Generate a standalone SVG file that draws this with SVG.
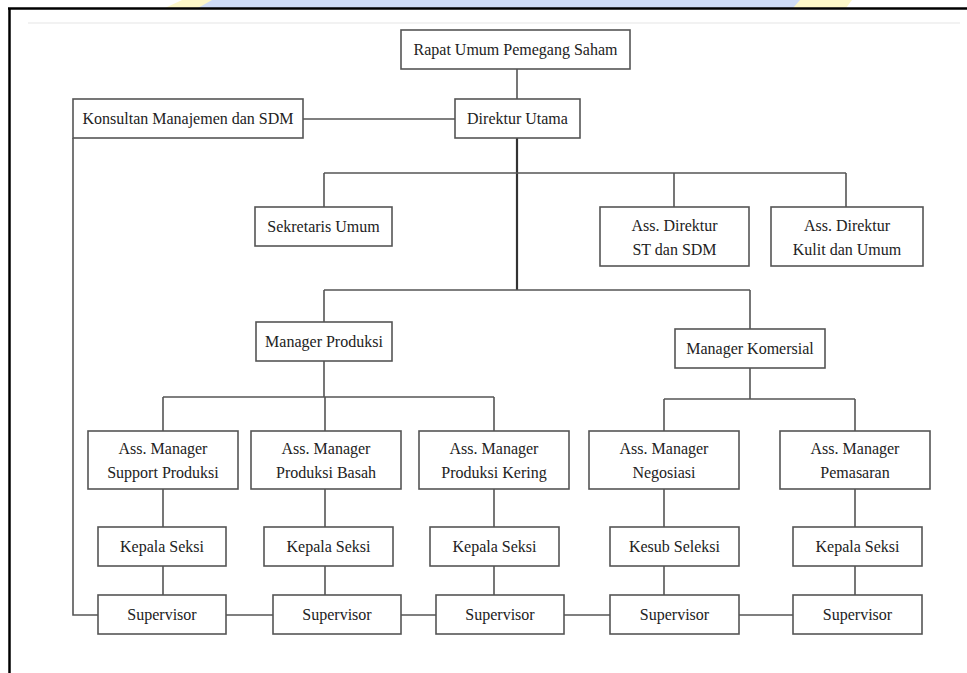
<svg xmlns="http://www.w3.org/2000/svg" width="967" height="673" viewBox="0 0 967 673">
<style>
.box{fill:#fff;stroke:#555;stroke-width:1.6}
.t{font-family:"Liberation Serif","Times New Roman",serif;font-size:16px;fill:#222;text-anchor:middle}
.c{fill:none;stroke:#555;stroke-width:1.6}
.cm{fill:none;stroke:#333;stroke-width:2.2}
</style>
<rect x="0" y="0" width="967" height="673" fill="#fff"/>
<g id="watermark">
<polygon points="165,8 182,0 852,0 846,8" fill="#fdf7c8"/>
<polygon points="198,8 212,0 800,0 793,8" fill="#cfdcf6"/>
</g>
<g id="frame">
<line x1="28" y1="23" x2="960" y2="23" stroke="#eee" stroke-width="1.5"/>
<line x1="8" y1="8.5" x2="967" y2="8.5" stroke="#000" stroke-width="2.5"/>
<line x1="9.5" y1="8" x2="9.5" y2="673" stroke="#000" stroke-width="2.5"/>
</g>
<g id="connectors">
<path class="c" d="M517 69V99M303 119H455M73 138V615H98"/>
<path class="cm" d="M517 138V290"/>
<path class="c" d="M324 173H846M324 173V207M674 173V207M846 173V207"/>
<path class="c" d="M324 290H750M324 290V322M750 290V329"/>
<path class="c" d="M324 361V397M163 397H494M163 397V431M325 397V431M494 397V431"/>
<path class="c" d="M750 368V399M664 399H855M664 399V431M855 399V431"/>
<path class="c" d="M163 489V527M325 489V527M494 489V527M664 489V527M855 489V527"/>
<path class="c" d="M163 566V595M325 566V595M494 566V595M664 566V595M855 566V595"/>
<path class="c" d="M226 615H273M401 615H436M564 615H610M739 615H793"/>
</g>
<g id="rapat"><rect class="box" x="401" y="30" width="229" height="39"/><text class="t" x="515.5" y="55">Rapat Umum Pemegang Saham</text></g>
<g id="konsultan"><rect class="box" x="73" y="99" width="230" height="39"/><text class="t" x="188" y="124">Konsultan Manajemen dan SDM</text></g>
<g id="direktur"><rect class="box" x="455" y="99" width="125" height="39"/><text class="t" x="517.5" y="124">Direktur Utama</text></g>
<g id="sekretaris"><rect class="box" x="255" y="207" width="137" height="39"/><text class="t" x="323.5" y="232">Sekretaris Umum</text></g>
<g id="assdir-st"><rect class="box" x="600" y="207" width="149" height="59"/><text class="t" x="674.5" y="231">Ass. Direktur</text><text class="t" x="674.5" y="255">ST dan SDM</text></g>
<g id="assdir-kulit"><rect class="box" x="771" y="207" width="152" height="59"/><text class="t" x="847" y="231">Ass. Direktur</text><text class="t" x="847" y="255">Kulit dan Umum</text></g>
<g id="mgr-produksi"><rect class="box" x="256" y="322" width="136" height="39"/><text class="t" x="324" y="347">Manager Produksi</text></g>
<g id="mgr-komersial"><rect class="box" x="675" y="329" width="150" height="39"/><text class="t" x="750" y="354">Manager Komersial</text></g>
<g id="am-support"><rect class="box" x="88" y="431" width="150" height="58"/><text class="t" x="163" y="454">Ass. Manager</text><text class="t" x="163" y="478">Support Produksi</text></g>
<g id="am-basah"><rect class="box" x="251" y="431" width="150" height="58"/><text class="t" x="326" y="454">Ass. Manager</text><text class="t" x="326" y="478">Produksi Basah</text></g>
<g id="am-kering"><rect class="box" x="419" y="431" width="150" height="58"/><text class="t" x="494" y="454">Ass. Manager</text><text class="t" x="494" y="478">Produksi Kering</text></g>
<g id="am-negosiasi"><rect class="box" x="589" y="431" width="150" height="58"/><text class="t" x="664" y="454">Ass. Manager</text><text class="t" x="664" y="478">Negosiasi</text></g>
<g id="am-pemasaran"><rect class="box" x="780" y="431" width="150" height="58"/><text class="t" x="855" y="454">Ass. Manager</text><text class="t" x="855" y="478">Pemasaran</text></g>
<g id="kepala-1"><rect class="box" x="98" y="527" width="128" height="39"/><text class="t" x="162" y="552">Kepala Seksi</text></g>
<g id="kepala-2"><rect class="box" x="264" y="527" width="129" height="39"/><text class="t" x="328.5" y="552">Kepala Seksi</text></g>
<g id="kepala-3"><rect class="box" x="430" y="527" width="129" height="39"/><text class="t" x="494.5" y="552">Kepala Seksi</text></g>
<g id="kesub"><rect class="box" x="610" y="527" width="129" height="39"/><text class="t" x="674.5" y="552">Kesub Seleksi</text></g>
<g id="kepala-5"><rect class="box" x="793" y="527" width="129" height="39"/><text class="t" x="857.5" y="552">Kepala Seksi</text></g>
<g id="sup-1"><rect class="box" x="98" y="595" width="128" height="39"/><text class="t" x="162" y="620">Supervisor</text></g>
<g id="sup-2"><rect class="box" x="273" y="595" width="128" height="39"/><text class="t" x="337" y="620">Supervisor</text></g>
<g id="sup-3"><rect class="box" x="436" y="595" width="128" height="39"/><text class="t" x="500" y="620">Supervisor</text></g>
<g id="sup-4"><rect class="box" x="610" y="595" width="129" height="39"/><text class="t" x="674.5" y="620">Supervisor</text></g>
<g id="sup-5"><rect class="box" x="793" y="595" width="129" height="39"/><text class="t" x="857.5" y="620">Supervisor</text></g>
</svg>
